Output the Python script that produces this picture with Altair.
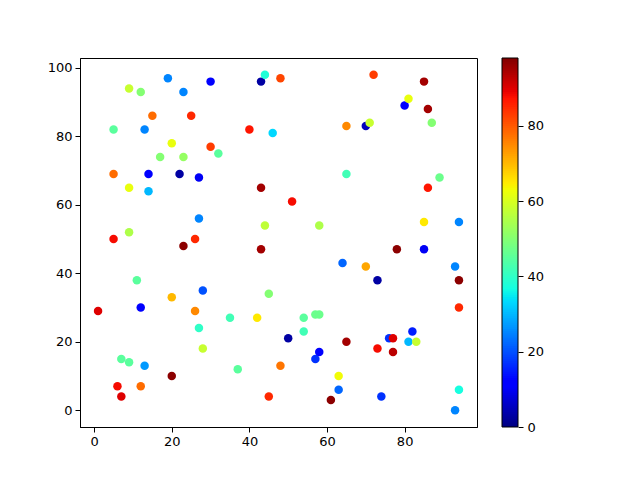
import altair as alt
import numpy as np
import pandas as pd

xs = [1, 5, 5, 5, 6, 7, 7, 9, 9, 9, 9, 11, 12, 12, 12, 13, 13, 14, 14, 15,
      17, 19, 20, 20, 20, 22, 23, 23, 23, 25, 26, 26, 27, 27, 27, 28, 28, 30, 30, 32,
      35, 37, 40, 42, 43, 43, 43, 44, 44, 45, 45, 46, 48, 48, 50, 51, 54, 54, 57, 58,
      57, 58, 58, 61, 63, 63, 64, 65, 65, 65, 70, 70, 71, 72, 73, 73, 74, 76, 77, 77,
      78, 80, 81, 81, 82, 83, 85, 85, 85, 86, 86, 87, 89, 93, 93, 94, 94, 94, 94]
ys = [29, 82, 69, 50, 7, 4, 15, 94, 65, 52, 14, 38, 93, 30, 7, 82, 13, 69, 64, 86,
      74, 97, 78, 33, 10, 69, 93, 74, 48, 86, 50, 29, 68, 56, 24, 35, 18, 96, 77, 75,
      27, 12, 82, 27, 96, 65, 47, 98, 54, 34, 4, 81, 97, 13, 21, 61, 27, 23, 28, 28,
      15, 17, 54, 3, 10, 6, 43, 83, 69, 20, 42, 83, 84, 98, 38, 18, 4, 21, 21, 17,
      47, 89, 91, 20, 23, 20, 96, 55, 47, 88, 65, 84, 68, 42, 0, 55, 38, 30, 6]
cs = [90, 45, 78, 88, 88, 90, 45, 58, 62, 55, 45, 45, 50, 12, 78, 25, 27, 12, 30, 78,
      50, 25, 62, 70, 97, 3, 25, 52, 97, 85, 85, 75, 10, 25, 40, 20, 58, 12, 83, 45,
      42, 45, 87, 65, 3, 95, 95, 38, 57, 50, 85, 33, 82, 77, 3, 88, 45, 42, 47, 47,
      17, 12, 55, 97, 63, 22, 22, 75, 42, 95, 72, 5, 58, 83, 3, 88, 17, 17, 90, 93,
      97, 12, 62, 30, 15, 58, 95, 65, 10, 95, 87, 50, 47, 25, 25, 25, 97, 85, 37]
cbar_ticks = [0, 20, 40, 60, 80]

df = pd.DataFrame({"x": xs, "y": ys, "c": cs})

vmin, vmax = 0, 98

# colorbar strip (colormap sampling, not data); overlapping slices avoid seams
step = 0.5
lo = np.arange(vmin, vmax, step)
cbar = pd.DataFrame({"lo": lo, "hi": np.minimum(lo + 3 * step, vmax), "c": lo + step / 2})
cframe = pd.DataFrame({"lo": [vmin], "hi": [vmax]})

# matplotlib "jet" colormap breakpoints
stops = [0, 0.11, 0.125, 0.34, 0.35, 0.375, 0.64, 0.65, 0.66, 0.89, 0.91, 1.0]
def jet(t):
    r = np.interp(t, [0, 0.35, 0.66, 0.89, 1], [0, 0, 1, 1, 0.5])
    g = np.interp(t, [0, 0.125, 0.375, 0.64, 0.91, 1], [0, 0, 1, 1, 0, 0])
    b = np.interp(t, [0, 0.11, 0.34, 0.65, 1], [0.5, 1, 1, 0, 0])
    return "#%02x%02x%02x" % (int(round(r * 255)), int(round(g * 255)), int(round(b * 255)))

dom = [vmin + s * (vmax - vmin) for s in stops]
rng = [jet(s) for s in stops]
cscale = alt.Scale(domain=dom, range=rng, interpolate="rgb")

font = "DejaVu Sans"

points = alt.Chart(df).mark_circle(size=72, opacity=1).encode(
    x=alt.X("x:Q", scale=alt.Scale(domain=[-3.65, 98.65], nice=False, zero=False),
            axis=alt.Axis(values=[0, 20, 40, 60, 80], title=None, grid=False)),
    y=alt.Y("y:Q", scale=alt.Scale(domain=[-4.9, 102.9], nice=False, zero=False),
            axis=alt.Axis(values=[0, 20, 40, 60, 80, 100], title=None, grid=False)),
    color=alt.Color("c:Q", scale=cscale, legend=None),
)

strip = alt.Chart(cbar).mark_rect(strokeWidth=0, opacity=1).encode(
    x=alt.value(422), x2=alt.value(438),
    y=alt.Y("lo:Q", scale=alt.Scale(domain=[vmin, vmax], nice=False, zero=False),
            axis=alt.Axis(orient="right", offset=41, values=cbar_ticks, title=None,
                          grid=False, domain=False, labelPadding=4)),
    y2="hi:Q",
    color=alt.Color("c:Q", scale=cscale, legend=None),
)

frame = alt.Chart(cframe).mark_rect(fill="transparent", stroke="black", strokeWidth=1).encode(
    x=alt.value(422), x2=alt.value(438),
    y=alt.Y("lo:Q", scale=alt.Scale(domain=[vmin, vmax], nice=False, zero=False), axis=None),
    y2="hi:Q",
)

chart = alt.layer(points, strip, frame).resolve_scale(y="independent").properties(
    width=397, height=369,
    autosize=alt.AutoSizeParams(type="none"),
    padding={"left": 72, "top": 50, "right": 155, "bottom": 45},
).configure_view(
    stroke="black", strokeWidth=1
).configure_axis(
    domainColor="black", tickColor="black", tickSize=5, labelFont=font,
    labelFontSize=13, labelColor="black", labelPadding=3
)

chart.save("out.html", embed_options={"renderer": "svg", "actions": False})
